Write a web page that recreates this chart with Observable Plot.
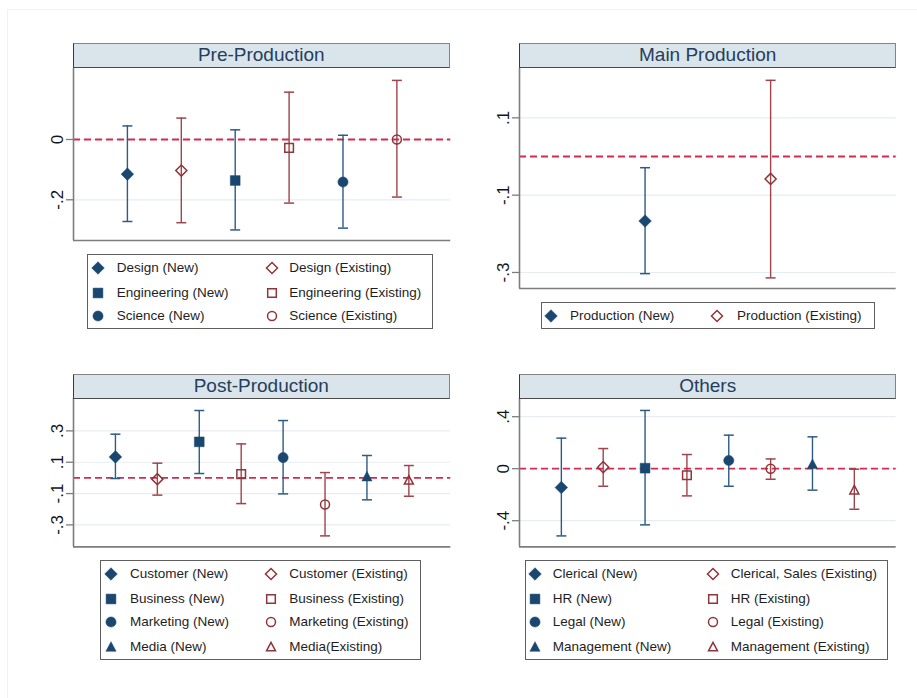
<!DOCTYPE html>
<html><head><meta charset="utf-8">
<script src="https://cdn.jsdelivr.net/npm/d3@7"></script>
<script src="https://cdn.jsdelivr.net/npm/@observablehq/plot@0.6"></script>
<style>
body{margin:0;background:#fff;font-family:Arial,"Liberation Sans",sans-serif;}
#root{position:relative;width:917px;height:698px;overflow:hidden;background:#fff;}
.frame{position:absolute;left:7px;top:9px;width:920px;height:700px;border-top:1px solid #f1f1f1;border-left:1px solid #f1f1f1;}
.strip{position:absolute;box-sizing:border-box;background:#d9e5eb;border:1.5px solid #858585;border-left-color:#3a3a3a;border-bottom-color:#4a4a4a;font-size:19px;color:#263d5c;text-align:center;}
.legend{position:absolute;box-sizing:border-box;border:1.3px solid #5f5f5f;background:#fff;}
.item{position:absolute;white-space:nowrap;font-size:13.5px;color:#1e1e1e;line-height:16px;}
.sym{position:absolute;}
.panel{position:absolute;}
</style></head>
<body><div id="root"><div class="frame"></div></div>
<script>
// ---------- DATA ----------
const preLabels = ["Design (New)","Design (Existing)","Engineering (New)","Engineering (Existing)","Science (New)","Science (Existing)"];
const preShapes = ["diamond","diamond","square","square","circle","circle"];
const preGroups = ["New","Existing","New","Existing","New","Existing"];
const preEst = [-0.115,-0.103,-0.136,-0.028,-0.141,0.000];
const preLo  = [-0.272,-0.276,-0.300,-0.211,-0.294,-0.191];
const preHi  = [0.045,0.071,0.032,0.157,0.014,0.196];
const preTicks = [0,-0.2];
const preTickLabels = ["0","-.2"];

const mainLabels = ["Production (New)","Production (Existing)"];
const mainShapes = ["diamond","diamond"];
const mainGroups = ["New","Existing"];
const mainEst = [-0.167,-0.058];
const mainLo  = [-0.303,-0.314];
const mainHi  = [-0.029,0.197];
const mainTicks = [0.1,-0.1,-0.3];
const mainTickLabels = [".1","-.1","-.3"];

const postLabels = ["Customer (New)","Customer (Existing)","Business (New)","Business (Existing)","Marketing (New)","Marketing (Existing)","Media (New)","Media(Existing)"];
const postShapes = ["diamond","diamond","square","square","circle","circle","triangle","triangle"];
const postGroups = ["New","Existing","New","Existing","New","Existing","New","Existing"];
const postEst = [0.134,-0.008,0.230,0.024,0.130,-0.170,0.008,-0.015];
const postLo  = [-0.004,-0.110,0.028,-0.164,-0.102,-0.370,-0.140,-0.117];
const postHi  = [0.279,0.094,0.430,0.217,0.366,0.034,0.143,0.079];
const postTicks = [0.3,0.1,-0.1,-0.3];
const postTickLabels = [".3",".1","-.1","-.3"];

const othLabels = ["Clerical (New)","Clerical, Sales (Existing)","HR (New)","HR (Existing)","Legal (New)","Legal (Existing)","Management (New)","Management (Existing)"];
const othShapes = ["diamond","diamond","square","square","circle","circle","triangle","triangle"];
const othGroups = ["New","Existing","New","Existing","New","Existing","New","Existing"];
const othEst = [-0.145,0.012,0.004,-0.050,0.063,-0.001,0.034,-0.165];
const othLo  = [-0.517,-0.135,-0.432,-0.209,-0.135,-0.081,-0.165,-0.312];
const othHi  = [0.235,0.155,0.448,0.109,0.258,0.075,0.245,-0.004];
const othTicks = [0.4,0,-0.4];
const othTickLabels = [".4","0","-.4"];

const panelTitles = ["Pre-Production","Main Production","Post-Production","Others"];

// ---------- STYLE ----------
const NAVY = "#1a476f", NAVY_CI = "#2e5b84";
const MAROON = "#90353b", MAROON_CI = "#9e444b";
const ZERO = "#d42b4f", GRID = "#e5edf2", AXIS = "#7d7d7d";

function makeSym(shape, k){
  if(shape==="diamond") return {draw(c){const h=6.3*k;c.moveTo(0,-h);c.lineTo(h,0);c.lineTo(0,h);c.lineTo(-h,0);c.closePath();}};
  if(shape==="square") return {draw(c){const h=4.9*k;c.moveTo(-h,-h);c.lineTo(h,-h);c.lineTo(h,h);c.lineTo(-h,h);c.closePath();}};
  if(shape==="circle") return {draw(c){const r=5.1*k;c.moveTo(r,0);c.arc(0,0,r,0,2*Math.PI);c.closePath();}};
  if(shape==="triangle") return {draw(c){const h=5.1*k;c.moveTo(0,-h*1.05);c.lineTo(h,h*0.85);c.lineTo(-h,h*0.85);c.closePath();}};
}
const capSym = {draw(c){c.moveTo(-5,0);c.lineTo(5,0);}};

const root = document.getElementById("root");

function rowsOf(labels, shapes, groups, est, lo, hi){
  return labels.map((l,i)=>({label:l, shape:shapes[i], group:groups[i], pos:i+1, est:est[i], lo:lo[i], hi:hi[i]}));
}

function panel(cfg){
  const {rows, ticks, tickLabels, x0, x1, y0, y1, ydom, title} = cfg;
  const ML=50, MR=4, MT=1, MB=4;
  const W = x1-x0+ML+MR, H = y1-y0+MT+MB;
  const n = rows.length;
  const marks = [
    Plot.ruleY(ticks, {stroke: GRID, strokeWidth: 1.2}),
    Plot.ruleY([0], {stroke: ZERO, strokeWidth: 1.8, strokeDasharray: "7,4"}),
    Plot.ruleX([0], {stroke: AXIS, strokeWidth: 1.6}),
    Plot.ruleY([ydom[0]], {stroke: AXIS, strokeWidth: 1.6}),
    Plot.axisY({ticks: ticks, tickSize: 7, tickFormat: () => "", stroke: AXIS, strokeWidth: 1.3, label: null}),
    Plot.text(ticks, {y: d=>d, text: (d,i)=>tickLabels[i], frameAnchor: "left", dx: -11, rotate: -90, textAnchor: "middle", lineAnchor: "bottom", fontSize: 17, fill: "#151515"})
  ];
  for(const g of ["New","Existing"]){
    const sub = rows.filter(r=>r.group===g);
    const ci = g==="New" ? NAVY_CI : MAROON_CI;
    marks.push(Plot.ruleX(sub, {x:"pos", y1:"lo", y2:"hi", stroke: ci, strokeWidth: 1.4}));
    marks.push(Plot.dot(sub, {x:"pos", y:"lo", symbol: capSym, r: 5, stroke: ci, fill: "none", strokeWidth: 1.5}));
    marks.push(Plot.dot(sub, {x:"pos", y:"hi", symbol: capSym, r: 5, stroke: ci, fill: "none", strokeWidth: 1.5}));
  }
  for(const shape of ["diamond","square","circle","triangle"]){
    const sn = rows.filter(r=>r.group==="New" && r.shape===shape);
    if(sn.length) marks.push(Plot.dot(sn, {x:"pos", y:"est", symbol: makeSym(shape,1), r:5, fill: NAVY, stroke: NAVY, strokeWidth: 0.5}));
    const se = rows.filter(r=>r.group==="Existing" && r.shape===shape);
    if(se.length) marks.push(Plot.dot(se, {x:"pos", y:"est", symbol: makeSym(shape,0.88), r:5, fill: "none", stroke: MAROON, strokeWidth: 1.5}));
  }
  const chart = Plot.plot({
    width: W, height: H,
    marginLeft: ML, marginRight: MR, marginTop: MT, marginBottom: MB,
    x: {domain: [0, n+1], axis: null},
    y: {domain: ydom, label: null},
    style: {background: "transparent", fontFamily: "Arial, 'Liberation Sans', sans-serif", overflow: "visible"},
    marks
  });
  chart.classList.add("panel");
  chart.style.left = (x0-ML)+"px";
  chart.style.top = (y0-MT)+"px";
  root.appendChild(chart);
  // strip
  const s = document.createElement("div");
  s.className = "strip";
  const st = cfg.strip;
  s.style.left = st[0]+"px"; s.style.top = st[1]+"px";
  s.style.width = (st[2]-st[0])+"px"; s.style.height = (st[3]-st[1])+"px";
  s.style.lineHeight = (st[3]-st[1]-3)+"px";
  s.textContent = title;
  root.appendChild(s);
}

function symbolSvg(shape, group){
  const p = d3.path();
  makeSym(shape, group==="New"?1:0.88).draw(p);
  const fill = group==="New"?NAVY:"none", stroke = group==="New"?NAVY:MAROON;
  return `<svg width="18" height="18" viewBox="-9 -9 18 18" style="overflow:visible"><path d="${p.toString()}" fill="${fill}" stroke="${stroke}" stroke-width="${group==="New"?0.5:1.5}"/></svg>`;
}

function legend(cfg){
  const {rows, box, rowY, cols} = cfg;
  const b = document.createElement("div");
  b.className = "legend";
  b.style.left = box[0]+"px"; b.style.top = box[1]+"px";
  b.style.width = (box[2]-box[0])+"px"; b.style.height = (box[3]-box[1])+"px";
  root.appendChild(b);
  const news = rows.filter(r=>r.group==="New"), olds = rows.filter(r=>r.group==="Existing");
  [news, olds].forEach((list, ci)=>{
    list.forEach((r, ri)=>{
      const sy = document.createElement("div");
      sy.className = "sym";
      sy.style.left = (cols[ci][0]-9)+"px"; sy.style.top = (rowY[ri]-9)+"px";
      sy.innerHTML = symbolSvg(r.shape, r.group);
      root.appendChild(sy);
      const t = document.createElement("div");
      t.className = "item";
      t.style.left = cols[ci][1]+"px"; t.style.top = (rowY[ri]-8)+"px";
      t.textContent = r.label;
      root.appendChild(t);
    });
  });
}

const pre = rowsOf(preLabels, preShapes, preGroups, preEst, preLo, preHi);
const main = rowsOf(mainLabels, mainShapes, mainGroups, mainEst, mainLo, mainHi);
const post = rowsOf(postLabels, postShapes, postGroups, postEst, postLo, postHi);
const oth = rowsOf(othLabels, othShapes, othGroups, othEst, othLo, othHi);

panel({rows: pre, ticks: preTicks, tickLabels: preTickLabels, x0: 72.7, x1: 450, y0: 68, y1: 240, ydom: [-0.335, 0.2355], title: panelTitles[0], strip: [73, 42.7, 449.5, 68.5]});
panel({rows: main, ticks: mainTicks, tickLabels: mainTickLabels, x0: 519.3, x1: 896, y0: 68.3, y1: 288.3, ydom: [-0.3414, 0.2276], title: panelTitles[1], strip: [519.3, 42.7, 896, 68.5]});
panel({rows: post, ticks: postTicks, tickLabels: postTickLabels, x0: 72.7, x1: 450, y0: 398.3, y1: 546.7, ydom: [-0.4403, 0.5067], title: panelTitles[2], strip: [73, 374, 449.5, 398.8]});
panel({rows: oth, ticks: othTicks, tickLabels: othTickLabels, x0: 519.3, x1: 896, y0: 398.3, y1: 546.7, ydom: [-0.6015, 0.54], title: panelTitles[3], strip: [519.3, 374, 896, 398.8]});

legend({rows: pre, box: [87, 254, 433, 329], rowY: [268.3, 292.7, 315.7], cols: [[98.3, 116.7], [271.7, 289.3]]});
legend({rows: main, box: [541, 302, 875, 329], rowY: [315.5], cols: [[551, 570], [717, 737]]});
legend({rows: post, box: [100, 560, 421, 660], rowY: [574.3, 598.7, 621.7, 646.7], cols: [[110.7, 130], [271, 289.3]]});
legend({rows: oth, box: [524.7, 560, 888, 660], rowY: [574.3, 598.7, 621.7, 646.7], cols: [[535, 552.7], [712.7, 730.7]]});
</script></body></html>
